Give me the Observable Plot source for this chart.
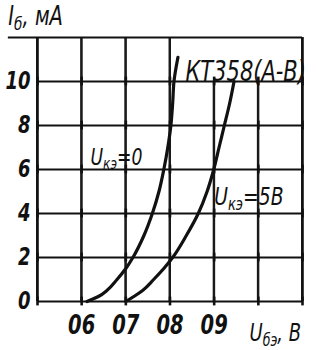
<!DOCTYPE html>
<html><head><meta charset="utf-8">
<script src="https://cdn.jsdelivr.net/npm/d3@7"></script>
<script src="https://cdn.jsdelivr.net/npm/@observablehq/plot@0.6"></script>
<style>body{margin:0;background:#fff} svg{display:block}</style>
</head><body><div id="chart"></div>
<script>
// ---- data ----
const yTicks = [0, 2, 4, 6, 8, 10];
const xTicks = [0.6, 0.7, 0.8, 0.9];
const xTickLabels = ["06", "07", "08", "09"];
const gridX = [0.5, 0.6, 0.7, 0.8, 0.9, 1.0, 1.1];
const frameX = [0.5, 0.6, 0.7, 0.8, 1.1];
const curve0X = [0.612, 0.640, 0.657, 0.680, 0.700, 0.716, 0.741, 0.760, 0.775, 0.786, 0.795, 0.802, 0.806, 0.809, 0.818];
const curve0Y = [0, 0.25, 0.5, 1, 1.5, 2, 3, 4, 5, 6, 7, 8, 9, 10, 11.1];
const curve5X = [0.700, 0.720, 0.738, 0.763, 0.786, 0.806, 0.837, 0.864, 0.884, 0.899, 0.911, 0.923, 0.935, 0.945];
const curve5Y = [0, 0.25, 0.5, 1, 1.5, 2, 3, 4, 5, 6, 7, 8, 9, 10];
const seriesNames = ["U_{кэ}=0", "U_{кэ}=5В"];
const titleText = "I_{б}, мА";
const xLabelText = "U_{бэ}, В";
const deviceText = "КТ358(А-В)";

const curve0 = curve0X.map((x, i) => ({x, y: curve0Y[i]}));
const curve5 = curve5X.map((x, i) => ({x, y: curve5Y[i]}));
const vCells = [
  ...gridX.map(x => ({x, y1: 0, y2: 10})),
  ...frameX.map(x => ({x, y1: 10, y2: 12}))
];
const crossings = d3.cross(gridX, yTicks).map(([x, y]) => ({x, y1: y - 0.2, y2: y + 0.2}));

const plot = Plot.plot({
  width: 322, height: 350,
  marginLeft: 37, marginRight: 20, marginTop: 37, marginBottom: 49,
  x: {domain: [0.5, 1.1]},
  y: {domain: [0, 12]},
  style: {fontFamily: "'DejaVu Sans', sans-serif", fontStyle: "italic", color: "#111"},
  marks: [
    Plot.rect(vCells, {x1: d => d.x - 0.0022, x2: d => d.x + 0.0022, y1: "y1", y2: "y2", fill: "#1a1a1a"}),
    Plot.ruleX(vCells, {x: "x", y1: "y1", y2: "y2", stroke: "#1a1a1a", strokeWidth: 2}),
    Plot.ruleX([0.5, 1.1], {y1: 0, y2: 12, stroke: "#111", strokeWidth: 2.2}),
    Plot.ruleY(yTicks, {x1: 0.5, x2: 1.1, stroke: "#111", strokeWidth: 2.2}),
    Plot.ruleY([12], {x1: 0.434, x2: 1.1, stroke: "#111", strokeWidth: 2.2}),
    Plot.ruleX(crossings, {x: "x", y1: "y1", y2: "y2", stroke: "#111", strokeWidth: 2.6}),
    Plot.line(curve0, {x: "x", y: "y", curve: "monotone-y", stroke: "#111", strokeWidth: 3.2}),
    Plot.line(curve5, {x: "x", y: "y", curve: "monotone-y", stroke: "#111", strokeWidth: 3.2}),
    Plot.axisY({ticks: yTicks, tickSize: 0, tickPadding: 7, fontSize: 24, fontWeight: "bold", label: null}),
    Plot.axisX({ticks: xTicks, tickFormat: d => xTickLabels[xTicks.indexOf(d)], tickSize: 0, tickPadding: 14, fontSize: 26, fontWeight: "bold", label: null}),
    Plot.text([seriesNames[0]], {x: 0.62, y: 6.55, text: d => d, textAnchor: "start", fontSize: 23}),
    Plot.text([seriesNames[1]], {x: 0.9, y: 4.75, text: d => d, textAnchor: "start", fontSize: 25}),
    Plot.text([deviceText], {x: 0.835, y: 10.45, text: d => d, textAnchor: "start", fontSize: 28}),
    Plot.text([titleText], {x: 0.434, y: 12.95, text: d => d, textAnchor: "start", fontSize: 26}),
    Plot.text([xLabelText], {x: 0.98, y: -1.45, text: d => d, textAnchor: "start", fontSize: 24})
  ]
});

// subscripts and narrow drafting-style lettering
const SX = 0.75;
plot.querySelectorAll("text").forEach(t => {
  const s = t.textContent;
  if (s.includes("_{")) {
    const parts = s.split(/_\{([^}]*)\}/);
    t.textContent = "";
    parts.forEach((p, i) => {
      if (!p) return;
      const ts = document.createElementNS("http://www.w3.org/2000/svg", "tspan");
      ts.textContent = p;
      if (i % 2 === 1) { ts.setAttribute("font-size", "0.7em"); ts.setAttribute("dy", "0.28em"); }
      else if (i > 0) { ts.setAttribute("dy", "-0.196em"); }
      t.appendChild(ts);
    });
  }
  const ax = parseFloat(t.getAttribute("x")) || 0;
  const tr = t.getAttribute("transform") || "";
  t.setAttribute("transform", `${tr} translate(${ax},0) scale(${SX},1) translate(${-ax},0)`);
});
document.getElementById("chart").appendChild(plot);
</script></body></html>
